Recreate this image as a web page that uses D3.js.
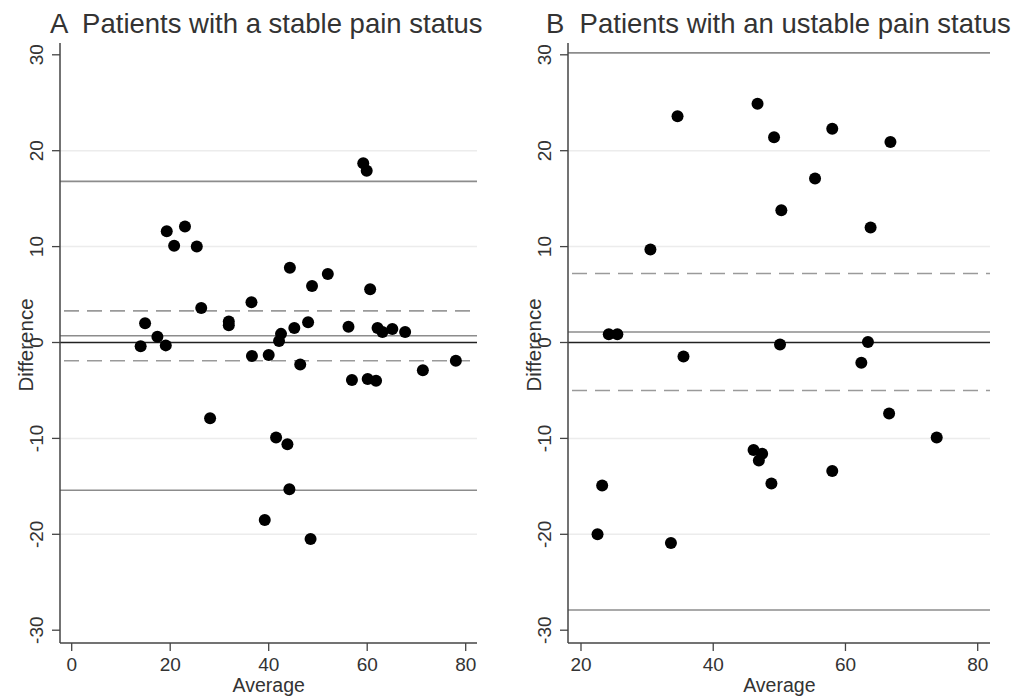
<!DOCTYPE html>
<html>
<head>
  <meta charset="utf-8">
  <script src="https://d3js.org/d3.v7.min.js"></script>
  <style>
    body { margin: 0; background: #fff; }
    svg { font-family: "Liberation Sans", Arial, sans-serif; }
  </style>
</head>
<body>
  <script>
    // --- data ---
    var stableAvg  = [14.0, 14.9, 17.4, 19.1, 19.3, 20.8, 23.0, 25.4, 26.3, 28.1, 31.9, 31.9, 36.5, 36.6,
                      39.2, 40.0, 41.5, 42.1, 42.5, 43.8, 44.2, 44.3, 45.2, 46.4, 48.0, 48.5, 48.8, 52.0,
                      56.2, 56.9, 59.2, 59.9, 60.1, 60.6, 61.8, 62.1, 63.1, 65.1, 67.7, 71.3, 78.0];
    var stableDiff = [-0.4, 2.0, 0.6, -0.3, 11.6, 10.1, 12.1, 10.0, 3.6, -7.9, 2.2, 1.8, 4.2, -1.4,
                      -18.5, -1.3, -9.9, 0.15, 0.9, -10.6, -15.3, 7.8, 1.5, -2.3, 2.1, -20.5, 5.9, 7.15,
                      1.65, -3.9, 18.7, 17.9, -3.8, 5.55, -4.0, 1.5, 1.1, 1.4, 1.1, -2.9, -1.9];
    var stableMean = 0.7, stableLoA = [-15.4, 16.8], stableCI = [-1.9, 3.3];

    var unstableAvg  = [22.5, 23.2, 24.2, 25.5, 30.5, 33.6, 34.6, 35.5, 46.1, 46.7, 46.9, 47.4, 48.8,
                        49.2, 50.1, 50.3, 55.4, 58.0, 58.0, 62.4, 63.4, 63.8, 66.6, 66.8, 73.8];
    var unstableDiff = [-20.0, -14.9, 0.85, 0.85, 9.7, -20.9, 23.6, -1.45, -11.2, 24.9, -12.3, -11.6, -14.7,
                        21.4, -0.2, 13.8, 17.1, 22.3, -13.4, -2.1, 0.05, 12.0, -7.4, 20.9, -9.9];
    var unstableMean = 1.1, unstableLoA = [-27.9, 30.2], unstableCI = [-5.0, 7.2];

    var yTicks = [-30, -20, -10, 0, 10, 20, 30];
    var gridTicks = [-20, -10, 10, 20];
    var stableXTicks = [0, 20, 40, 60, 80];
    var unstableXTicks = [20, 40, 60, 80];

    var W = 1013, H = 696;
    var svg = d3.select("body").append("svg").attr("width", W).attr("height", H);

    var y = d3.scaleLinear().domain([-30, 30]).range([630.2, 54.8]);

    function panel(p) {
      var g = svg.append("g");
      var x = d3.scaleLinear().domain(p.xDomain).range(p.xRange);
      var x0 = p.left, x1 = p.right, yTop = 43, yBot = 643;

      // faint gridlines
      g.selectAll("line.grid").data(gridTicks).enter().append("line")
        .attr("x1", x0).attr("x2", x1).attr("y1", y).attr("y2", y)
        .attr("stroke", "#ececec").attr("stroke-width", 1.5);

      // limits of agreement, mean, CI
      g.selectAll("line.loa").data(p.loa).enter().append("line")
        .attr("x1", x0).attr("x2", x1).attr("y1", y).attr("y2", y)
        .attr("stroke", "#8c8c8c").attr("stroke-width", 1.6);
      g.append("line").attr("x1", x0).attr("x2", x1).attr("y1", y(p.mean)).attr("y2", y(p.mean))
        .attr("stroke", "#8c8c8c").attr("stroke-width", 1.6);
      g.selectAll("line.ci").data(p.ci).enter().append("line")
        .attr("x1", x0 + 4).attr("x2", x1).attr("y1", y).attr("y2", y)
        .attr("stroke", "#9a9a9a").attr("stroke-width", 1.6).attr("stroke-dasharray", "15,8");
      g.append("line").attr("x1", x0).attr("x2", x1).attr("y1", y(0)).attr("y2", y(0))
        .attr("stroke", "#222").attr("stroke-width", 1.6);

      // points
      g.selectAll("circle").data(p.avg).enter().append("circle")
        .attr("cx", function(d) { return x(d); })
        .attr("cy", function(d, i) { return y(p.diff[i]); })
        .attr("r", 6).attr("fill", "#000");

      // axes
      g.append("line").attr("x1", x0).attr("x2", x0).attr("y1", yTop).attr("y2", yBot)
        .attr("stroke", "#444").attr("stroke-width", 1.5);
      g.append("line").attr("x1", x0).attr("x2", x1).attr("y1", yBot).attr("y2", yBot)
        .attr("stroke", "#444").attr("stroke-width", 1.5);

      g.selectAll("line.yt").data(yTicks).enter().append("line")
        .attr("x1", x0 - 8).attr("x2", x0).attr("y1", y).attr("y2", y)
        .attr("stroke", "#444").attr("stroke-width", 1.3);
      g.selectAll("text.yt").data(yTicks).enter().append("text")
        .attr("transform", function(d) { return "translate(" + (x0 - 17) + "," + y(d) + ") rotate(-90)"; })
        .attr("text-anchor", "middle").attr("font-size", 19).attr("fill", "#333")
        .text(function(d) { return d; });

      g.selectAll("line.xt").data(p.xTicks).enter().append("line")
        .attr("x1", x).attr("x2", x).attr("y1", yBot).attr("y2", yBot + 8)
        .attr("stroke", "#444").attr("stroke-width", 1.3);
      g.selectAll("text.xt").data(p.xTicks).enter().append("text")
        .attr("x", x).attr("y", 671)
        .attr("text-anchor", "middle").attr("font-size", 19).attr("fill", "#333")
        .text(function(d) { return d; });

      g.append("text").attr("x", (p.xRange[0] + p.xRange[1]) / 2).attr("y", 691.5)
        .attr("text-anchor", "middle").attr("font-size", 19.5).attr("fill", "#333").text("Average");
      g.append("text")
        .attr("transform", "translate(" + (x0 - 27) + "," + 345 + ") rotate(-90)")
        .attr("text-anchor", "middle").attr("font-size", 20.5).attr("fill", "#333").text("Difference");

      g.append("text").attr("x", p.titleX).attr("y", 33)
        .attr("font-size", 27.5).attr("fill", "#333").attr("xml:space", "preserve").text(p.title);
    }

    panel({ avg: stableAvg, diff: stableDiff, mean: stableMean, loa: stableLoA, ci: stableCI,
            xDomain: [0, 80], xRange: [71.7, 465.7], left: 60, right: 477, xTicks: stableXTicks,
            title: "A  Patients with a stable pain status", titleX: 50 });
    panel({ avg: unstableAvg, diff: unstableDiff, mean: unstableMean, loa: unstableLoA, ci: unstableCI,
            xDomain: [20, 80], xRange: [581, 977.7], left: 568, right: 990, xTicks: unstableXTicks,
            title: "B  Patients with an ustable pain status", titleX: 546 });
  </script>
</body>
</html>
